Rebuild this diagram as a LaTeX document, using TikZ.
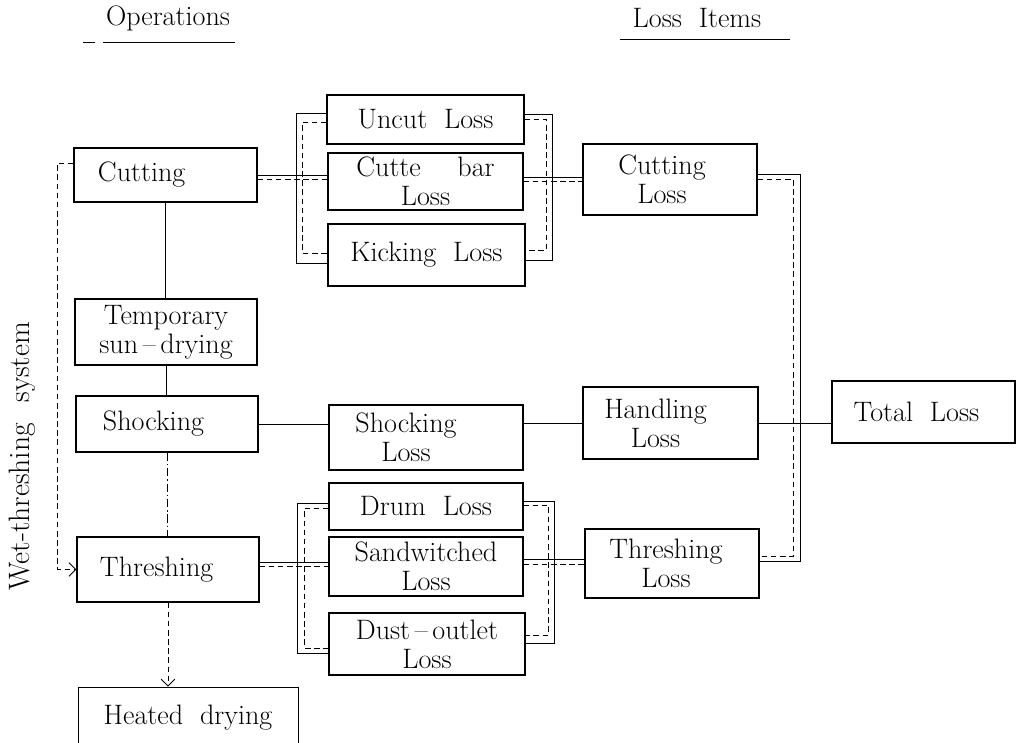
\documentclass[tikz,border=0pt]{standalone}
\usetikzlibrary{calc,arrows.meta}
\newcommand{\bx}[7][]{\node[box,minimum width={(#5-#3)*0.025cm},minimum height={(#6-#4)*0.025cm},#1] (#2) at ({(#3+#5)/2},{(#4+#6)/2}) {#7};}
\newcommand{\myfnt}{\fontsize{20}{20.5}\selectfont\spaceskip=0.6em\relax}
\newcommand{\wetfnt}{\fontsize{21}{22}\selectfont\spaceskip=0.7em\relax}
\begin{document}
\begin{tikzpicture}[x=0.025cm,y=-0.025cm,
  every node/.style={font=\myfnt},
  box/.style={draw,line width=0.8pt,inner sep=0pt,align=center},
  opbox/.style={box,align=left},
  ln/.style={line width=0.7pt},
  dsh/.style={line width=0.7pt,dash pattern=on 4pt off 2.5pt},
  ddot/.style={line width=0.6pt,dash pattern=on 6pt off 2pt on 1pt off 2pt},
  arr/.style={-{Straight Barb[length=1.7mm,width=3.4mm]}}]
\useasboundingbox (0,0) rectangle (1022,743);
% headers
\node (ops) at (168,18) {Operations};
\node (lit) at (697,18) {Loss Items};
\draw[ln] ($(ops.center)+(-85,24)$) -- ($(ops.center)+(-73,24)$);
\draw[ln] ($(ops.center)+(-65,24)$) -- ($(ops.center)+(67,24)$);
\draw[ln] ($(lit.center)+(-77,21)$) -- ($(lit.center)+(93,21)$);
% operations
\bx[opbox,text width=3.375cm,inner xsep=0.6cm]{cut}{74}{148}{257}{202}{Cutting}
\bx{tmp}{75}{299}{257}{365}{Temporary\\sun\,--\,drying}
\bx[opbox,text width=3.2cm,inner xsep=0.675cm]{shk}{76}{396}{258}{452}{Shocking}
\bx[opbox,text width=3.4cm,inner xsep=0.575cm]{thr}{77}{537}{259}{602}{Threshing}
\bx[line width=0.5pt]{heat}{78}{687}{298}{748}{Heated drying}
% loss items
\bx{unc}{327}{95}{524}{144}{Uncut Loss}
\bx{cbar}{328}{153}{523}{210}{Cutte\hspace{1.3em}bar\\Loss}
\bx{kick}{328}{224}{525}{286}{Kicking Loss}
\bx{closs}{583}{144}{757}{215}{Cutting\hspace*{0.4cm}\\Loss\hspace*{0.4cm}}
\bx{sloss}{329}{405}{523}{470}{Shocking\hspace*{1cm}\\Loss\hspace*{1cm}}
\bx{hloss}{583}{387}{758}{459}{Handling\hspace*{0.75cm}\\Loss\hspace*{0.75cm}}
\bx{drum}{329}{483}{523}{530}{Drum Loss}
\bx{sand}{329}{537}{523}{596}{Sandwitched\\Loss}
\bx{dust}{329}{613}{525}{675}{Dust\,--\,outlet\\Loss}
\bx{tloss}{585}{529}{759}{598}{Threshing\hspace*{0.3cm}\\Loss\hspace*{0.3cm}}
\bx{total}{832}{381}{1015}{443}{Total Loss\hspace*{0.35cm}}
% operation chain
\draw[ln] (cut.south) -- (cut.south |- tmp.north);
\draw[ln] (tmp.south) -- (tmp.south |- shk.north);
\draw[ddot] (shk.south) -- (shk.south |- thr.north);
\draw[dsh,arr] (thr.south) -- (thr.south |- heat.north);
\draw[dsh,arr] ($(cut.west)+(0,-12)$) -- ++(-16,0) |- (thr.west);
\node[rotate=90,font=\wetfnt] (wet) at (22,456) {Wet-threshing system};
% cutting group
\draw[ln] (cut.east) -- (cut.east -| cbar.west);
\draw[dsh] ($(cut.east)+(0,4)$) -- ($(cut.east -| cbar.west)+(0,4)$);
\draw[ln] ($(unc.west)+(0,-6.5)$) -- ++(-30,0) |- ($(kick.west)+(0,8)$);
\draw[dsh] ($(unc.west)+(0,2.5)$) -- ++(-24,0) |- ($(kick.west)+(0,-2)$);
\draw[ln] ($(unc.east)+(0,-5.5)$) -- ++(28,0) |- ($(kick.east)+(0,5)$);
\draw[dsh] (unc.east) -- ++(22,0) |- ($(kick.east)+(0,-5)$);
\draw[ln] ($(cbar.east |- closs.west)+(0,-2)$) -- ($(closs.west)+(0,-2)$);
\draw[dsh] ($(cbar.east |- closs.west)+(0,1.5)$) -- ($(closs.west)+(0,1.5)$);
% shocking
\draw[ln] (shk.east) -- (shk.east -| sloss.west);
\draw[ln] (sloss.east |- hloss.west) -- (hloss.west);
\draw[ln] (hloss.east) -- (hloss.east -| total.west);
% threshing group
\draw[ln] ($(thr.east)+(0,-7.5)$) -- ($(thr.east -| sand.west)+(0,-7.5)$);
\draw[dsh] ($(thr.east)+(0,-3.5)$) -- ($(thr.east -| sand.west)+(0,-3.5)$);
\draw[ln] ($(drum.west)+(0,-3.5)$) -- ++(-31,0) |- ($(dust.west)+(0,9)$);
\draw[dsh] ($(drum.west)+(0,1.5)$) -- ++(-24,0) |- ($(dust.west)+(0,4)$);
\draw[ln] ($(drum.east)+(0,-5.5)$) -- ++(31,0) |- ($(dust.east)+(0,-1)$);
\draw[dsh] ($(drum.east)+(0,-1.5)$) -- ++(25,0) |- ($(dust.east)+(0,-9)$);
\draw[ln] ($(sand.east)+(0,-7.5)$) -- ($(sand.east -| tloss.west)+(0,-7.5)$);
\draw[dsh] ($(sand.east)+(0,-2.5)$) -- ($(sand.east -| tloss.west)+(0,-2.5)$);
% big right bracket
\draw[ln] ($(closs.east)+(0,-5.5)$) -- ++(43,0) |- ($(tloss.east)+(0,-2.5)$);
\draw[dsh] (closs.east) -- ++(36,0) |- ($(tloss.east)+(0,-7.5)$);
\end{tikzpicture}
\end{document}
